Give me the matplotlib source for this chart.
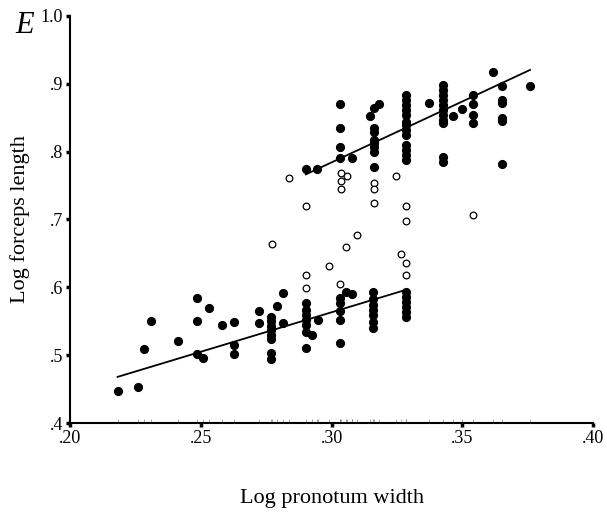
import numpy as np
import matplotlib
matplotlib.use("Agg")
import matplotlib.pyplot as plt

plt.rcParams['font.family'] = ['Liberation Serif', 'DejaVu Serif']

# filled circles, small-size group
low_x = [0.2182, 0.2260, 0.2284, 0.2310, 0.2413, 0.2485, 0.2485, 0.2532, 0.2485, 0.2510,
         0.2582, 0.2628, 0.2628, 0.2628, 0.2724, 0.2724, 0.2813, 0.2790, 0.2813,
         0.2769, 0.2769, 0.2769, 0.2769, 0.2769, 0.2769, 0.2769, 0.2769,
         0.2902, 0.2902, 0.2902, 0.2902, 0.2902, 0.2902, 0.2902, 0.2924, 0.2950,
         0.3034, 0.3034, 0.3034, 0.3034, 0.3034, 0.3055, 0.3077,
         0.3160, 0.3160, 0.3160, 0.3160, 0.3160, 0.3160, 0.3160,
         0.3284, 0.3284, 0.3284, 0.3284, 0.3284, 0.3284]
low_y = [0.4473, 0.4538, 0.5093, 0.5506, 0.5211, 0.5836, 0.5506, 0.5689, 0.5015, 0.4951,
         0.5442, 0.5491, 0.5147, 0.5010, 0.5649, 0.5476, 0.5919, 0.5727, 0.5476,
         0.5565, 0.5501, 0.5432, 0.5369, 0.5295, 0.5236, 0.5025, 0.4941,
         0.5771, 0.5664, 0.5590, 0.5516, 0.5442, 0.5344, 0.5099, 0.5295, 0.5516,
         0.5836, 0.5763, 0.5649, 0.5516, 0.5173, 0.5934, 0.5900,
         0.5925, 0.5822, 0.5737, 0.5664, 0.5590, 0.5491, 0.5394,
         0.5934, 0.5860, 0.5786, 0.5712, 0.5639, 0.5556]

# filled circles, large-size group
high_x = [0.2902, 0.2943, 0.3034, 0.3034, 0.3034, 0.3034, 0.3080,
          0.3147, 0.3163, 0.3182,
          0.3163, 0.3163, 0.3163, 0.3163, 0.3163, 0.3163, 0.3163,
          0.3285, 0.3285, 0.3285, 0.3285, 0.3285, 0.3285, 0.3285, 0.3285, 0.3285,
          0.3285, 0.3285, 0.3285, 0.3285,
          0.3374,
          0.3425, 0.3425, 0.3425, 0.3425, 0.3425, 0.3425, 0.3425, 0.3425, 0.3425,
          0.3425, 0.3425,
          0.3466, 0.3499, 0.3540, 0.3540, 0.3540, 0.3540, 0.3618,
          0.3651, 0.3651, 0.3651, 0.3651, 0.3651, 0.3651, 0.3759]
high_y = [0.7743, 0.7743, 0.8698, 0.8344, 0.8072, 0.7901, 0.7901,
          0.8530, 0.8639, 0.8698,
          0.8344, 0.8294, 0.8171, 0.8122, 0.8063, 0.7999, 0.7777,
          0.8835, 0.8761, 0.8687, 0.8614, 0.8540, 0.8441, 0.8392, 0.8319, 0.8245,
          0.8097, 0.8024, 0.7950, 0.7876,
          0.8712,
          0.8982, 0.8909, 0.8835, 0.8761, 0.8687, 0.8614, 0.8540, 0.8466, 0.8417,
          0.7925, 0.7851,
          0.8525, 0.8628, 0.8835, 0.8698, 0.8540, 0.8426, 0.9174,
          0.8972, 0.8761, 0.8712, 0.8491, 0.8456, 0.7813, 0.8972]

# open circles
open_x = [0.2839, 0.2902, 0.3035, 0.3058, 0.3035, 0.3035, 0.3163, 0.3163, 0.3163,
          0.3247, 0.3285, 0.3285, 0.3540,
          0.2771, 0.3099, 0.3055, 0.2992, 0.3033, 0.2902, 0.2902,
          0.3265, 0.3285, 0.3285]
open_y = [0.7606, 0.7198, 0.7680, 0.7640, 0.7571, 0.7448, 0.7544, 0.7445, 0.7246,
          0.7640, 0.7198, 0.6981, 0.7065,
          0.6637, 0.6770, 0.6593, 0.6313, 0.6047, 0.6180, 0.5984,
          0.6490, 0.6357, 0.6180]

# fitted lines (end points)
low_line_x = [0.2182, 0.3281]
low_line_y = [0.4680, 0.5959]
high_line_x = [0.2902, 0.3759]
high_line_y = [0.7665, 0.9204]

x_ticks = [0.20, 0.25, 0.30, 0.35, 0.40]
x_labels = ['.20', '.25', '.30', '.35', '.40']
y_ticks = [0.4, 0.5, 0.6, 0.7, 0.8, 0.9, 1.0]
y_labels = ['.4', '.5', '.6', '.7', '.8', '.9', '1.0']

fig = plt.figure(figsize=(6.07, 5.14), dpi=100)
ax = fig.add_axes([0.1153, 0.177, 0.8617, 0.792])

ax.plot(low_line_x, low_line_y, color='black', lw=1.3, zorder=2)
ax.plot(high_line_x, high_line_y, color='black', lw=1.3, zorder=2)
ax.plot(low_x, low_y, 'o', ms=5.6, color='black', mec='black', zorder=3)
ax.plot(high_x, high_y, 'o', ms=5.6, color='black', mec='black', zorder=3)
ax.plot(open_x, open_y, 'o', ms=4.8, mfc='white', mec='black', mew=0.9, zorder=3)

ax.set_xlim(0.20, 0.40)
ax.set_ylim(0.4, 1.0)
ax.set_xticks(x_ticks)
ax.set_xticklabels(x_labels)
ax.set_yticks(y_ticks)
ax.set_yticklabels(y_labels)
ax.set_xticks(sorted(set(low_x + high_x + open_x)), minor=True)

for s in ['top', 'right']:
    ax.spines[s].set_visible(False)
for s in ['left', 'bottom']:
    ax.spines[s].set_linewidth(1.5)
ax.tick_params(axis='both', which='major', direction='out', length=3, width=2.5,
               labelsize=13, pad=2)
ax.tick_params(axis='x', which='minor', direction='in', length=3, width=0.5,
               color='0.5')

ax.set_xlabel('Log pronotum width', fontsize=16, labelpad=30)
ax.set_ylabel('Log forceps length', fontsize=16, labelpad=8)
fig.text(0.025, 0.935, 'E', fontsize=22, style='italic')

fig.savefig('out.png', dpi=100)
